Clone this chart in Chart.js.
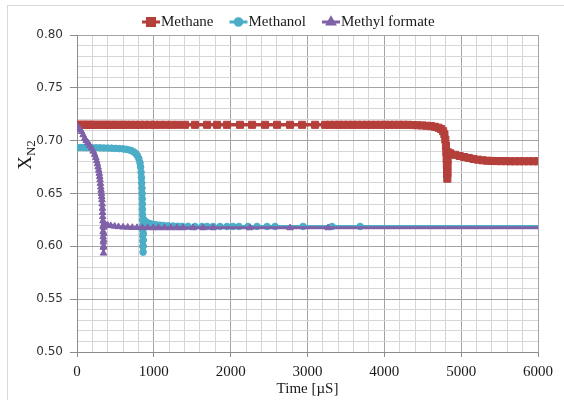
<!DOCTYPE html>
<html>
<head>
<meta charset="utf-8">
<script src="https://cdn.jsdelivr.net/npm/chart.js@4/dist/chart.umd.min.js"></script>
<style>
  html, body { margin: 0; padding: 0; background: #ffffff; }
  #wrap { width: 564px; height: 400px; position: relative; }
</style>
</head>
<body>
<div id="wrap"><canvas id="c" width="564" height="400"></canvas></div>
<script>
// Series labels
const seriesNames = ['Methane', 'Methanol', 'Methyl formate'];

// Methane: time [µs] and N2 mole fraction
const methaneTime = [0, 30, 60, 90, 120, 150, 180, 215, 250, 290, 330, 370, 410, 455, 500, 550, 600, 650, 705, 760, 820, 880, 945, 1010, 1080, 1155, 1230, 1310,
  1406, 1536, 1693, 1823, 1953, 2122, 2279, 2448, 2604, 2773, 2930, 3099,
  3230, 3290, 3350, 3410, 3470, 3530, 3590, 3650, 3710, 3770, 3830, 3890, 3950, 4010, 4070, 4130, 4190, 4250, 4310, 4370,
  4430, 4490, 4550, 4610, 4660, 4705, 4740, 4765, 4782, 4794, 4802, 4807, 4811, 4814, 4816, 4818, 4820,
  4822, 4823, 4824, 4826, 4860, 4920, 4980, 5040, 5100, 5160, 5220, 5280, 5340, 5400, 5460, 5520, 5580, 5640, 5700, 5760, 5820, 5880, 5940, 6000];
const methaneX = [0.715, 0.715, 0.715, 0.715, 0.715, 0.715, 0.715, 0.715, 0.715, 0.715, 0.715, 0.715, 0.715, 0.715, 0.715, 0.715, 0.715, 0.715, 0.715, 0.715, 0.715, 0.715, 0.715, 0.715, 0.715, 0.715, 0.715, 0.715,
  0.715, 0.715, 0.715, 0.715, 0.715, 0.715, 0.715, 0.715, 0.715, 0.715, 0.715, 0.715,
  0.715, 0.715, 0.715, 0.715, 0.715, 0.715, 0.715, 0.715, 0.715, 0.715, 0.715, 0.715, 0.715, 0.715, 0.715, 0.715, 0.715, 0.715, 0.715, 0.7148,
  0.7146, 0.7144, 0.7141, 0.7137, 0.7131, 0.7122, 0.7110, 0.709, 0.706, 0.701, 0.695, 0.689, 0.683, 0.677, 0.672, 0.668, 0.664,
  0.670, 0.676, 0.682, 0.689, 0.688, 0.6866, 0.6855, 0.6845, 0.6836, 0.6827, 0.682, 0.6814, 0.681, 0.6808, 0.6807, 0.6806, 0.6806, 0.6805, 0.6805, 0.6805, 0.6805, 0.6805, 0.6805, 0.6805];

// Methanol: time [µs] and N2 mole fraction
const methanolTime = [0, 40, 80, 120, 160, 200, 250, 300, 350, 400, 450, 500, 550, 600, 640, 680, 710, 740, 765, 785, 805, 820,
  828, 834, 839, 842, 845, 847, 849, 850, 851, 852, 853, 854, 855, 856, 857, 858, 860,
  861, 862, 863, 864, 866, 885, 910, 945, 985, 1030, 1080, 1130, 1190, 1250, 1310,
  1367, 1445, 1536, 1627, 1693, 1771, 1862, 1953, 2031, 2109, 2226, 2343, 2474, 2578, 2943, 3320, 3685, 7200];
const methanolX = [0.6935, 0.6935, 0.6935, 0.6934, 0.6934, 0.6933, 0.6933, 0.6932, 0.6931, 0.693, 0.6929, 0.6927, 0.6925, 0.6922, 0.6918, 0.6912, 0.6905, 0.6893, 0.6878, 0.686, 0.683, 0.679,
  0.675, 0.670, 0.665, 0.660, 0.655, 0.650, 0.645, 0.640, 0.635, 0.630, 0.625, 0.620, 0.615, 0.610, 0.605, 0.600, 0.5945,
  0.600, 0.606, 0.612, 0.618, 0.6255, 0.6238, 0.6226, 0.6216, 0.6209, 0.6204, 0.62, 0.6197, 0.6194, 0.6192, 0.619,
  0.6189, 0.6189, 0.6188, 0.6188, 0.6188, 0.6188, 0.6188, 0.6188, 0.6188, 0.6188, 0.6188, 0.6188, 0.6188, 0.6188, 0.6188, 0.6188, 0.6188, 0.6188];

// Methyl formate: time [µs] and N2 mole fraction
const formateTime = [0, 20, 40, 60, 80, 100, 120, 140, 165, 190, 210, 230, 245, 256, 266, 275, 283, 290, 295, 300, 305, 310, 314, 318, 322, 325, 328, 331, 333, 335, 337,
  339, 340, 341, 342, 343, 345,
  347, 348, 349, 350, 352, 370, 400, 440, 490, 540, 600, 660, 720, 780, 850, 920, 990, 1060, 1140, 1220, 1300,
  1380, 1510, 1640, 1771, 2252, 2773, 3268, 7200];
const formateX = [0.714, 0.712, 0.7105, 0.7085, 0.7055, 0.702, 0.700, 0.698, 0.6955, 0.693, 0.690, 0.687, 0.684, 0.681, 0.678, 0.675, 0.672, 0.669, 0.666, 0.663, 0.6595, 0.656, 0.653, 0.650, 0.647, 0.644, 0.640, 0.636, 0.632, 0.628, 0.624,
  0.619, 0.614, 0.609, 0.604, 0.599, 0.5935,
  0.600, 0.606, 0.612, 0.618, 0.6215, 0.6205, 0.620, 0.6195, 0.619, 0.6185, 0.6182, 0.618, 0.6178, 0.6177, 0.6176, 0.6176, 0.6175, 0.6175, 0.6175, 0.6175, 0.6175,
  0.6175, 0.6175, 0.6175, 0.6175, 0.6175, 0.6175, 0.6175, 0.6175];

// Axis ranges and tick spacing
const xRange = [0, 6000];
const xMajorStep = 1000;
const xMinorStep = 200;
const yRange = [0.50, 0.80];
const yMajorStep = 0.05;
const yMinorStep = 0.01;

const colors = ['#b43f3b', '#4badc7', '#7f61a8'];
const markers = ['rect', 'circle', 'triangle'];
const markerRadius = [5, 3.3, 3.8];
const lineWidths = [3.5, 3, 3];

function pairs(ts, vs) { return ts.map((t, i) => ({ x: t, y: vs[i] })); }

const seriesData = [pairs(methaneTime, methaneX), pairs(methanolTime, methanolX), pairs(formateTime, formateX)];

const isMajorX = v => Math.abs(v / xMajorStep - Math.round(v / xMajorStep)) < 1e-6;
const isMajorY = v => Math.abs(v / yMajorStep - Math.round(v / yMajorStep)) < 1e-6;

const majorGrid = '#a3a3a3';
const minorGrid = '#d6d6d6';

// Frame, legend with line + marker samples, and the subscripted y title
const decorations = {
  id: 'decorations',
  beforeDraw(chart) {
    const ctx = chart.ctx;
    ctx.save();
    ctx.fillStyle = '#ffffff';
    ctx.fillRect(0, 0, chart.width, chart.height);
    ctx.strokeStyle = '#d9d9d9';
    ctx.lineWidth = 1;
    ctx.strokeRect(7.5, 5.5, 700, 700);
    ctx.restore();
  },
  afterDraw(chart) {
    const ctx = chart.ctx;
    ctx.save();
    // legend
    ctx.font = '15px "Liberation Serif", "Times New Roman", serif';
    ctx.textBaseline = 'middle';
    let x = 142;
    const y = 22;
    seriesNames.forEach((name, i) => {
      ctx.strokeStyle = colors[i];
      ctx.lineWidth = 3;
      ctx.beginPath();
      ctx.moveTo(x, y);
      ctx.lineTo(x + 18, y);
      ctx.stroke();
      ctx.fillStyle = colors[i];
      Chart.helpers.drawPoint(ctx, { pointStyle: markers[i], radius: markerRadius[i], rotation: 0, borderWidth: 1 }, x + 9, y);
      ctx.fill();
      ctx.fillStyle = '#1a1a1a';
      ctx.fillText(name, x + 19, y);
      x += 19 + ctx.measureText(name).width + 16;
    });
    // y-axis title: X with subscript N2
    ctx.translate(26, 155);
    ctx.rotate(-Math.PI / 2);
    ctx.textBaseline = 'alphabetic';
    ctx.fillStyle = '#1a1a1a';
    const bigFont = '19px "Liberation Serif", "Times New Roman", serif';
    const subFont = '13px "Liberation Serif", "Times New Roman", serif';
    ctx.font = bigFont;
    const wX = ctx.measureText('X').width;
    ctx.font = subFont;
    const wS = ctx.measureText('N2').width;
    const start = -(wX + wS) / 2;
    ctx.font = bigFont;
    ctx.fillText('X', start, 5);
    ctx.font = subFont;
    ctx.fillText('N2', start + wX, 9);
    ctx.restore();
  }
};

new Chart(document.getElementById('c'), {
  type: 'line',
  data: {
    datasets: seriesNames.map((name, i) => ({
      label: name,
      data: seriesData[i],
      borderColor: colors[i],
      backgroundColor: colors[i],
      borderWidth: lineWidths[i],
      borderJoinStyle: 'round',
      borderCapStyle: 'round',
      pointStyle: markers[i],
      pointRadius: markerRadius[i],
      pointBorderWidth: 1,
      pointBorderColor: colors[i],
      pointBackgroundColor: colors[i],
      tension: 0,
      fill: false,
      order: 3 - i
    }))
  },
  options: {
    responsive: false,
    devicePixelRatio: 1,
    animation: false,
    events: [],
    layout: { padding: { left: 0, right: 26, top: 35, bottom: 0 } },
    plugins: { legend: { display: false }, tooltip: { enabled: false } },
    scales: {
      x: {
        type: 'linear',
        min: xRange[0],
        max: xRange[1],
        afterFit(scale) { scale.height = 48; },
        border: { color: '#8c8c8c', width: 1 },
        grid: {
          color: ctx => isMajorX(ctx.tick.value) ? majorGrid : minorGrid,
          tickColor: ctx => isMajorX(ctx.tick.value) ? '#8c8c8c' : 'rgba(0,0,0,0)',
          tickLength: 5
        },
        ticks: {
          stepSize: xMinorStep,
          autoSkip: false,
          maxRotation: 0,
          padding: 6,
          color: '#1a1a1a',
          font: { family: '"Liberation Serif", "Times New Roman", serif', size: 15 },
          callback: v => isMajorX(v) ? String(Math.round(v)) : ''
        },
        title: {
          display: true,
          text: 'Time [µS]',
          color: '#1a1a1a',
          font: { family: '"Liberation Serif", "Times New Roman", serif', size: 15 },
          padding: { top: 0, bottom: 2 }
        }
      },
      y: {
        type: 'linear',
        min: yRange[0],
        max: yRange[1],
        afterFit(scale) { scale.width = 77; },
        border: { color: '#8c8c8c', width: 1 },
        grid: {
          color: ctx => isMajorY(ctx.tick.value) ? majorGrid : minorGrid,
          tickColor: ctx => isMajorY(ctx.tick.value) ? '#8c8c8c' : 'rgba(0,0,0,0)',
          tickLength: 7
        },
        ticks: {
          stepSize: yMinorStep,
          autoSkip: false,
          padding: 7,
          color: '#333333',
          font: { family: '"DejaVu Sans", sans-serif', size: 12 },
          callback: v => isMajorY(v) ? v.toFixed(2) : ''
        }
      }
    }
  },
  plugins: [decorations]
});
</script>
</body>
</html>
